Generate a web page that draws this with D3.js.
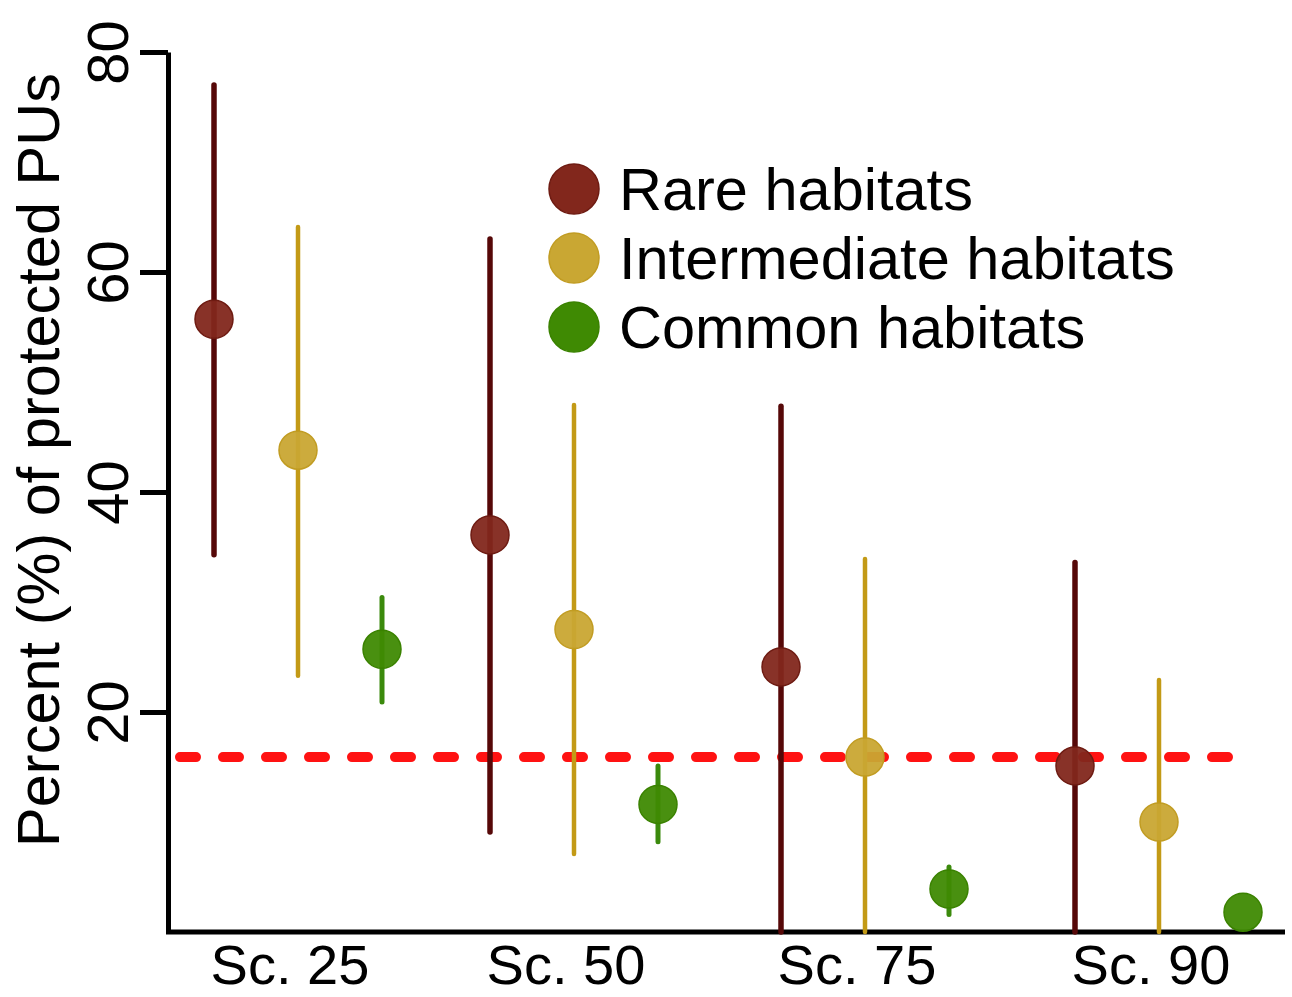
<!doctype html>
<html>
<head>
<meta charset="utf-8">
<title></title>
<script src="https://cdn.jsdelivr.net/npm/d3@7"></script>
<style>
  body { margin: 0; background: #fff; }
  svg text { font-family: "Liberation Sans", Arial, sans-serif; fill: #000; }
</style>
</head>
<body>
<div id="main"></div>
<script>
// scenarios and habitat classes
var scenarios = ["Sc. 25", "Sc. 50", "Sc. 75", "Sc. 90"];
var habitats = ["Rare habitats", "Intermediate habitats", "Common habitats"];

// mean percent of protected PUs, per habitat class (one value per scenario)
var rareMean = [55.7, 36.1, 24.1, 15.1];
var rareLow  = [34.3, 9.1, 0, 0];
var rareHigh = [77.0, 63.0, 47.8, 33.6];

var interMean = [43.8, 27.5, 15.9, 10.0];
var interLow  = [23.3, 7.1, 0, 0];
var interHigh = [64.1, 47.9, 33.9, 22.9];

var commonMean = [25.7, 11.6, 3.9, 1.8];
var commonLow  = [20.9, 8.2, 1.6, 1.8];
var commonHigh = [30.4, 15.1, 5.9, 1.8];

var targetLine = 15.9;
var yTicks = [20, 40, 60, 80];

var circleFill = ["#82271c", "#c9a733", "#3f8a03"];
var circleStroke = ["#6e1b12", "#c19c22", "#3a8200"];
var lineColor = ["#560808", "#c39a16", "#3b8a0c"];
var lineWidth = [5.5, 4.5, 5];

var width = 1292, height = 997;

var svg = d3.select("#main").append("svg")
  .attr("width", width)
  .attr("height", height);

var y = d3.scaleLinear().domain([0, 80]).range([932, 52]);
// group centres are not evenly spaced in the original figure
var xIdx = d3.scaleLinear().domain([0, 1, 2, 3]).range([297, 573, 864, 1158]);
var x = function(s) { return xIdx(scenarios.indexOf(s)); };
var xOff = d3.scalePoint().domain(habitats).range([-83, 85]);

var data = [];
var means = [rareMean, interMean, commonMean];
var lows = [rareLow, interLow, commonLow];
var highs = [rareHigh, interHigh, commonHigh];
habitats.forEach(function(h, hi) {
  scenarios.forEach(function(s, si) {
    data.push({ hab: h, hi: hi, sc: s, mean: means[hi][si], low: lows[hi][si], high: highs[hi][si] });
  });
});

// y axis
var yAxis = svg.append("g")
  .attr("transform", "translate(168,0)")
  .call(d3.axisLeft(y).tickValues(yTicks).tickSize(28).tickSizeOuter(0));
yAxis.select(".domain").attr("stroke", "#000").attr("stroke-width", 5);
yAxis.selectAll(".tick line").attr("stroke", "#000").attr("stroke-width", 5);
yAxis.selectAll(".tick text")
  .attr("x", null).attr("dy", null)
  .attr("transform", "translate(-40,0) rotate(-90)")
  .attr("text-anchor", "middle")
  .style("font-size", "58px")
  .style("font-family", "'Liberation Sans', Arial, sans-serif")
  .attr("fill", "#000");

// x axis (line + labels only)
svg.append("line")
  .attr("x1", 166).attr("x2", 1285)
  .attr("y1", y(0)).attr("y2", y(0))
  .attr("stroke", "#000").attr("stroke-width", 5);

svg.append("g").selectAll("text")
  .data(scenarios)
  .join("text")
  .attr("x", function(d) { return x(d) - 7; })
  .attr("y", y(0) + 52)
  .attr("text-anchor", "middle")
  .style("font-size", "56px")
  .text(function(d) { return d; });

// y title
svg.append("text")
  .attr("transform", "translate(59," + 460 + ") rotate(-90)")
  .attr("text-anchor", "middle")
  .style("font-size", "59.5px")
  .text("Percent (%) of protected PUs");

// target dashed line
svg.append("line")
  .attr("x1", 180).attr("x2", 1240)
  .attr("y1", y(targetLine)).attr("y2", y(targetLine))
  .attr("stroke", "#ff1212")
  .attr("stroke-width", 10)
  .attr("stroke-linecap", "round")
  .attr("stroke-dasharray", "16 27");

// error bars
svg.append("g").selectAll("line")
  .data(data.filter(function(d) { return d.high > d.low; }))
  .join("line")
  .attr("x1", function(d) { return x(d.sc) + xOff(d.hab); })
  .attr("x2", function(d) { return x(d.sc) + xOff(d.hab); })
  .attr("y1", function(d) { return y(d.low); })
  .attr("y2", function(d) { return y(d.high); })
  .attr("stroke", function(d) { return lineColor[d.hi]; })
  .attr("stroke-width", function(d) { return lineWidth[d.hi]; })
  .attr("stroke-linecap", "round");

// points
svg.append("g").selectAll("circle")
  .data(data)
  .join("circle")
  .attr("cx", function(d) { return x(d.sc) + xOff(d.hab); })
  .attr("cy", function(d) { return y(d.mean); })
  .attr("r", 19)
  .attr("fill", function(d) { return circleFill[d.hi]; })
  .attr("fill-opacity", 0.95)
  .attr("stroke", function(d) { return circleStroke[d.hi]; })
  .attr("stroke-width", 1.5);

// legend
var legend = svg.append("g");
var legY = d3.scalePoint().domain(habitats).range([189, 327]);
legend.selectAll("circle")
  .data(habitats)
  .join("circle")
  .attr("cx", 574)
  .attr("cy", function(d) { return legY(d); })
  .attr("r", 25)
  .attr("fill", function(d, i) { return circleFill[i]; })
  .attr("stroke", function(d, i) { return circleStroke[i]; })
  .attr("stroke-width", 1.5);
legend.selectAll("text")
  .data(habitats)
  .join("text")
  .attr("x", 619)
  .attr("y", function(d) { return legY(d) + 21; })
  .style("font-size", "59.5px")
  .text(function(d) { return d; });
</script>
</body>
</html>
